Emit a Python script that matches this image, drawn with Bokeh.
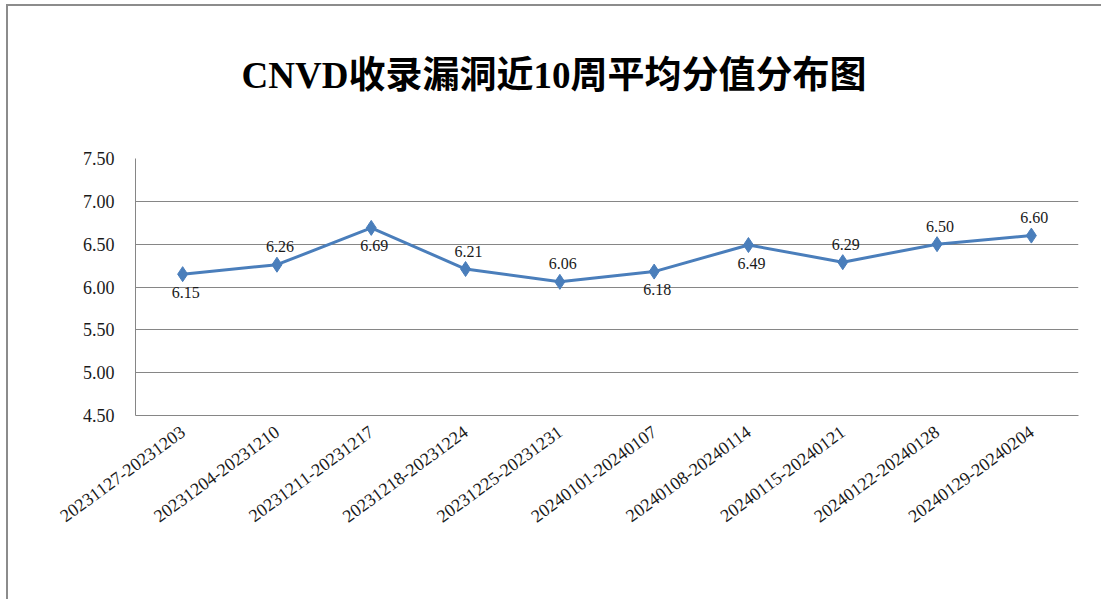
from bokeh.plotting import figure
from bokeh.models import ColumnDataSource, LabelSet, FixedTicker, NumeralTickFormatter
from bokeh.core.properties import value
from bokeh.embed import file_html
from bokeh.resources import INLINE

# ---- data ----
weeks = ["20231127-20231203", "20231204-20231210", "20231211-20231217",
         "20231218-20231224", "20231225-20231231", "20240101-20240107",
         "20240108-20240114", "20240115-20240121", "20240122-20240128",
         "20240129-20240204"]
scores = [6.15, 6.26, 6.69, 6.21, 6.06, 6.18, 6.49, 6.29, 6.50, 6.60]
label_side = ["below", "above", "below", "above", "above",
              "below", "below", "above", "above", "above"]
y_ticks = [4.5, 5.0, 5.5, 6.0, 6.5, 7.0, 7.5]
title_text = "CNVD收录漏洞近10周平均分值分布图"

LINE = "#4a7ebb"
GRID = "#868686"
SERIF = "'Liberation Serif', 'Times New Roman', serif"
TITLE_FONT = "'Liberation Serif', 'Noto Sans CJK SC', serif"

src = ColumnDataSource(dict(
    week=weeks,
    score=scores,
    text=["%.2f" % s for s in scores],
    yoff=[18 if s == "above" else -18 for s in label_side],
))

p = figure(x_range=weeks, y_range=(4.5, 7.5), width=1095, height=595,
           output_backend="svg", toolbar_location=None,
           min_border_left=127, min_border_right=25,
           min_border_top=152, min_border_bottom=186)
p.styles = {"border-left": "2px solid #8c8c8c", "border-top": "2px solid #8c8c8c",
            "margin-left": "6px", "margin-top": "4px"}
p.outline_line_color = None
p.background_fill_color = "white"
p.border_fill_color = "white"

# a blank second line lifts the title away from the plot frame
p.title.text = title_text + "\n "
p.title.align = "left"
p.title.offset = 106
p.title.standoff = 44
p.title.text_font = TITLE_FONT
p.title.text_font_size = "37px"
p.title.text_font_style = "bold"
p.title.text_color = "#000000"

p.xgrid.grid_line_color = None
p.ygrid.grid_line_color = GRID
p.ygrid.grid_line_width = 1

ya = p.yaxis[0]
ya.ticker = FixedTicker(ticks=y_ticks)
ya.formatter = NumeralTickFormatter(format="0.00")
ya.axis_line_color = GRID
ya.major_tick_line_color = None
ya.minor_tick_line_color = None
ya.major_label_standoff = 15
ya.major_label_text_font = SERIF
ya.major_label_text_font_size = "18px"
ya.major_label_text_color = "#1a1a1a"

xa = p.xaxis[0]
xa.axis_line_color = GRID
xa.major_tick_line_color = None
xa.minor_tick_line_color = None
xa.major_label_orientation = 0.63
xa.major_label_standoff = 8
xa.major_label_text_font = SERIF
xa.major_label_text_font_size = "18px"
xa.major_label_text_color = "#1a1a1a"

p.line(x="week", y="score", source=src, line_color=LINE, line_width=3)
p.scatter(x="week", y="score", source=src, marker="diamond", size=15,
          fill_color=LINE, line_color=LINE)

labels = LabelSet(x="week", y="score", text="text", source=src,
                  y_offset="yoff", x_offset=3,
                  text_align="center", text_baseline="middle",
                  text_font=value(SERIF), text_font_size="16px",
                  text_color="#1a1a1a")
p.add_layout(labels)

open("out.html", "w").write(file_html(p, INLINE))
